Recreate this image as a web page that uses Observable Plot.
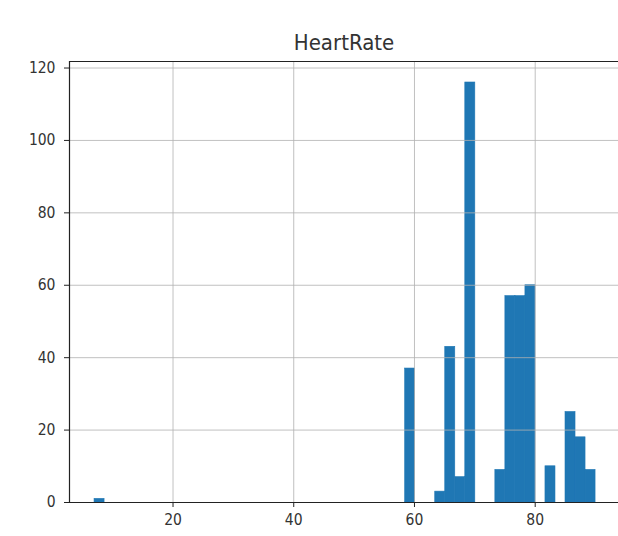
<!DOCTYPE html>
<html>
<head>
<meta charset="utf-8">
<script src="https://cdn.jsdelivr.net/npm/d3@7"></script>
<script src="https://cdn.jsdelivr.net/npm/@observablehq/plot@0.6"></script>
<style>
  html, body { margin: 0; padding: 0; background: #fff; overflow: hidden; }
  svg text { font-stretch: condensed; }
</style>
</head>
<body>
<div id="chart"></div>
<script>
// Histogram of HeartRate: 50 equal bins from min to max
const title = "HeartRate";
const binMin = 7;
const binMax = 90;
const counts = [
  1, 0, 0, 0, 0, 0, 0, 0, 0, 0,
  0, 0, 0, 0, 0, 0, 0, 0, 0, 0,
  0, 0, 0, 0, 0, 0, 0, 0, 0, 0,
  0, 37, 0, 0, 3, 43, 7, 116, 0, 0,
  9, 57, 57, 60, 0, 10, 0, 25, 18, 9
];
const xTicks = [20, 40, 60, 80];
const yTicks = [0, 20, 40, 60, 80, 100, 120];

const binWidth = (binMax - binMin) / counts.length;
const bins = counts.map((c, i) => ({
  x1: binMin + i * binWidth,
  x2: binMin + (i + 1) * binWidth,
  count: c
}));

// matplotlib-style auto limits: 5% margins
const span = binMax - binMin;
const xLo = binMin - 0.05 * span;
const xHi = 93.8; // right edge clipped in the reference
const yHi = d3.max(counts) * 1.05;

const font = "'DejaVu Sans Condensed', 'DejaVu Sans', sans-serif";

const chart = Plot.plot({
  width: 618,
  height: 536,
  marginLeft: 69,
  marginRight: 0,
  marginTop: 61,
  marginBottom: 34,
  style: { fontFamily: font, fontSize: "15.5px", color: "#222", background: "#fff" },
  x: { domain: [xLo, xHi] },
  y: { domain: [0, yHi] },
  marks: [
    Plot.rectY(bins.filter(d => d.count > 0), {
      x1: "x1", x2: "x2", y: "count",
      fill: "#1f77b4", stroke: "#1f77b4", strokeWidth: 0.6, inset: 0
    }),
    Plot.gridX(xTicks, { stroke: "#b0b0b0", strokeOpacity: 0.8, strokeWidth: 1 }),
    Plot.gridY(yTicks.filter(t => t > 0), { stroke: "#b0b0b0", strokeOpacity: 0.8, strokeWidth: 1 }),
    Plot.axisX(xTicks, { tickSize: 5, tickPadding: 6, fontSize: 15.5, stroke: "#222", fill: "#333", label: null }),
    Plot.axisY(yTicks, { tickSize: 5, tickPadding: 9, fontSize: 15.5, stroke: "#222", fill: "#333", label: null }),
    Plot.ruleY([0], { stroke: "#222", strokeWidth: 1.2 }),
    Plot.ruleY([yHi], { stroke: "#222", strokeWidth: 1.2 }),
    Plot.ruleX([xLo], { stroke: "#222", strokeWidth: 1.2 }),
    Plot.text([title], { frameAnchor: "top", lineAnchor: "middle", dy: -19, fontSize: 22, fill: "#333" })
  ]
});
document.getElementById("chart").appendChild(chart);
</script>
</body>
</html>
